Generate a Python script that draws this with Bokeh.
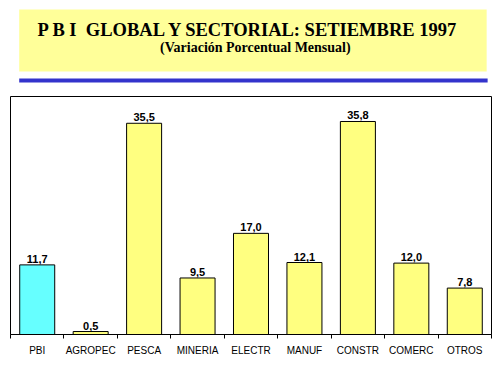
from bokeh.plotting import figure
from bokeh.models import Range1d, FixedTicker, ColumnDataSource
from bokeh.layouts import column
from bokeh.core.properties import value
from bokeh.embed import file_html
from bokeh.resources import INLINE

categories = ["PBI", "AGROPEC", "PESCA", "MINERIA", "ELECTR", "MANUF", "CONSTR", "COMERC", "OTROS"]
values = [11.7, 0.5, 35.5, 9.5, 17.0, 12.1, 35.8, 12.0, 7.8]
title_text = "P B I \u00a0GLOBAL Y SECTORIAL: SETIEMBRE 1997"
subtitle_text = "(Variación Porcentual Mensual)"

W = 497
HH = 90
# ---------- header ----------
hdr = figure(width=W, height=HH, x_range=Range1d(0, W), y_range=Range1d(HH, 0),
             min_border=0, toolbar_location=None, output_backend="svg")
hdr.axis.visible = False
hdr.grid.visible = False
hdr.outline_line_color = None
hdr.quad(left=[9], right=[492], top=[9], bottom=[71], fill_color="#FFFF99", line_color=None)
hdr.quad(left=[9], right=[493], top=[78], bottom=[82], fill_color="#3333CC", line_color=None)
hdr.text(x=[246], y=[29], text=[title_text], text_font=value("Liberation Serif"),
         text_font_style="bold", text_font_size="18.5px", text_align="center",
         text_baseline="middle", text_color="black")
hdr.text(x=[253], y=[46.5], text=[subtitle_text], text_font=value("Liberation Serif"),
         text_font_style="bold", text_font_size="14px", text_align="center",
         text_baseline="middle", text_color="black")

# ---------- chart ----------
n = len(categories)
xs = [i + 0.5 for i in range(n)]
colors = ["#66FFFF"] + ["#FFFF80"] * (n - 1)
labels = [("%.1f" % v).replace(".", ",") for v in values]
src = ColumnDataSource(dict(x=xs, top=values, color=colors, label=labels))

p = figure(width=W, height=282, x_range=Range1d(0, n), y_range=Range1d(0, 40),
           toolbar_location=None, output_backend="svg",
           min_border_left=10, min_border_right=6, min_border_top=6, min_border_bottom=38)
p.grid.visible = False
p.yaxis.visible = False
p.outline_line_color = "black"
p.outline_line_width = 1

p.vbar(x="x", top="top", bottom=0, width=0.655, fill_color="color", line_color="black",
       line_width=1, source=src)
p.text(x="x", y="top", text="label", source=src, text_font=value("Liberation Sans"),
       text_font_style="bold", text_font_size="11px", text_align="center",
       text_baseline="alphabetic", y_offset=-6, text_color="black")

ax = p.xaxis[0]
ax.ticker = FixedTicker(ticks=xs, minor_ticks=list(range(n + 1)))
ax.major_label_overrides = {x: c for x, c in zip(xs, categories)}
ax.major_tick_line_color = None
ax.major_tick_out = 0
ax.major_tick_in = 0
ax.minor_tick_line_color = "black"
ax.minor_tick_out = 4
ax.minor_tick_in = 0
ax.axis_line_color = "black"
ax.major_label_text_font = "Liberation Sans"
ax.major_label_text_font_size = "10px"
ax.major_label_text_color = "black"
ax.major_label_standoff = 6

layout = column(hdr, p, spacing=0)
open("out.html", "w").write(file_html(layout, INLINE))
